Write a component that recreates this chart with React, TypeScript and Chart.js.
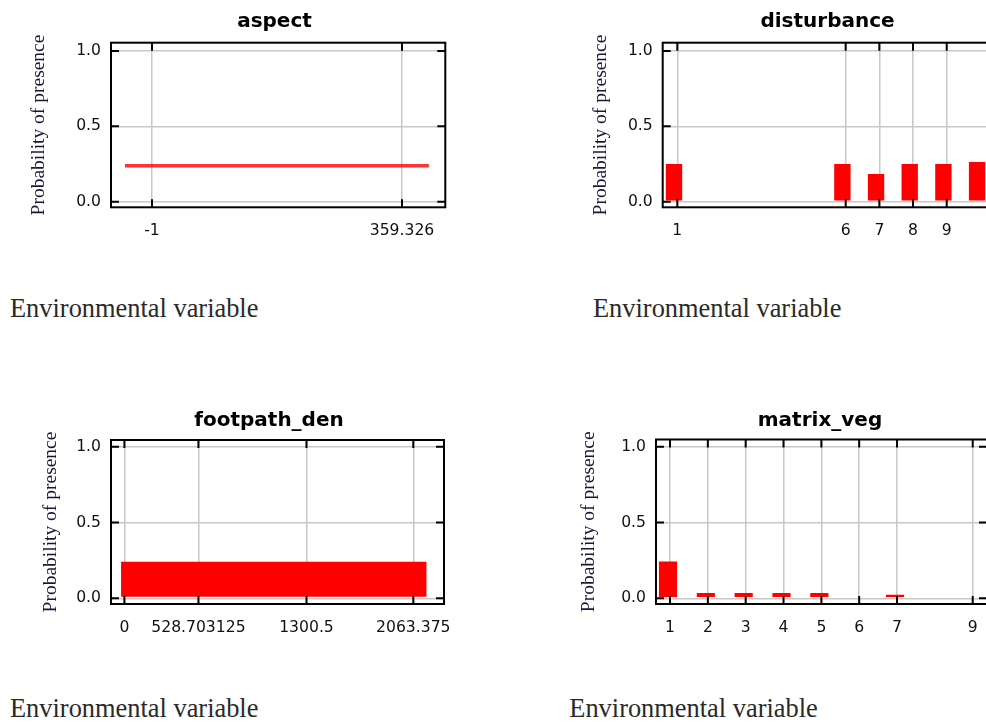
import React, { useEffect, useRef } from 'react';
import { Chart, registerables } from 'chart.js';

Chart.register(...registerables);

// ---------------- data ----------------
const Y_TICKS = [0, 0.5, 1];
const Y_AXIS_TITLE = 'Probability of presence';
const X_CAPTION = 'Environmental variable';
const BAR_BASE = 0.01;

const ASPECT_TITLE = 'aspect';
const ASPECT_X = [-40, 398];
const ASPECT_Y = [0.238, 0.238];
const ASPECT_TICKS = [-1, 359.326];
const ASPECT_TICK_LABELS = ['-1', '359.326'];

const DISTURBANCE_TITLE = 'disturbance';
const DISTURBANCE_CATS = [1, 6, 7, 8, 9, 10];
const DISTURBANCE_VALUES = [0.248, 0.248, 0.181, 0.248, 0.248, 0.261];
const DISTURBANCE_TICKS = [1, 6, 7, 8, 9];
const DISTURBANCE_TICK_LABELS = ['1', '6', '7', '8', '9'];

const FOOTPATH_TITLE = 'footpath_den';
const FOOTPATH_X = [-24, 2159];
const FOOTPATH_Y = [0.241, 0.241];
const FOOTPATH_TICKS = [0, 528.703125, 1300.5, 2063.375];
const FOOTPATH_TICK_LABELS = ['0', '528.703125', '1300.5', '2063.375'];

const MATRIX_TITLE = 'matrix_veg';
const MATRIX_CATS = [1, 2, 3, 4, 5, 7];
const MATRIX_VALUES = [0.241, 0.033, 0.033, 0.033, 0.033, 0.022];
const MATRIX_TICKS = [1, 2, 3, 4, 5, 6, 7, 9];
const MATRIX_TICK_LABELS = ['1', '2', '3', '4', '5', '6', '7', '9'];

// ---------------- styles ----------------
const RED = '#ff0000';
const GRID = '#c8c8c8';
const TITLE_FONT = { family: 'DejaVu Sans', size: 20, weight: 'bold' as const, lineHeight: 1.2 };
const TICK_FONT = { family: 'DejaVu Sans', size: 15.6, lineHeight: 1.2 };
const YTITLE_FONT = { family: 'Liberation Serif', size: 19.5, lineHeight: 1.2 };
const TICK_LEN = 8;

type Kind = 'line' | 'area' | 'bars';
interface PanelCfg {
  kind: Kind;
  title: string;
  xs: number[];
  ys: number[];
  xTicks: number[];
  xTickLabels: string[];
  left: number; top: number; width: number; height: number;
  box: { l: number; t: number; r: number; b: number };
  xMin: number; xMax: number; yMin: number; yMax: number;
  titleMidY: number; yTitleMidX: number;
  barThickness?: number; barShiftPx?: number;
}

const PANELS: PanelCfg[] = [
  {
    kind: 'line', title: ASPECT_TITLE, xs: ASPECT_X, ys: ASPECT_Y,
    xTicks: ASPECT_TICKS, xTickLabels: ASPECT_TICK_LABELS,
    left: 0, top: 0, width: 549, height: 260,
    box: { l: 111, t: 42.7, r: 445.3, b: 207.3 },
    xMin: -60.09, xMax: 421.73, yMin: -0.0371, yMax: 1.0543,
    titleMidY: 22.1, yTitleMidX: 38.5,
  },
  {
    kind: 'bars', title: DISTURBANCE_TITLE, xs: DISTURBANCE_CATS, ys: DISTURBANCE_VALUES,
    xTicks: DISTURBANCE_TICKS, xTickLabels: DISTURBANCE_TICK_LABELS,
    left: 560, top: 0, width: 535, height: 260,
    box: { l: 662.7, t: 42.7, r: 1000, b: 207.3 },
    xMin: 0.5664, xMax: 10.583, yMin: -0.0371, yMax: 1.0543,
    titleMidY: 22.1, yTitleMidX: 600.9,
    barThickness: 15.7, barShiftPx: 3.3,
  },
  {
    kind: 'area', title: FOOTPATH_TITLE, xs: FOOTPATH_X, ys: FOOTPATH_Y,
    xTicks: FOOTPATH_TICKS, xTickLabels: FOOTPATH_TICK_LABELS,
    left: 0, top: 390, width: 538, height: 260,
    box: { l: 111, t: 440, r: 444, b: 604 },
    xMin: -95.7, xMax: 2282.7, yMin: -0.0376, yMax: 1.0442,
    titleMidY: 420.4, yTitleMidX: 50.9,
  },
  {
    kind: 'bars', title: MATRIX_TITLE, xs: MATRIX_CATS, ys: MATRIX_VALUES,
    xTicks: MATRIX_TICKS, xTickLabels: MATRIX_TICK_LABELS,
    left: 560, top: 390, width: 520, height: 260,
    box: { l: 656, t: 439.5, r: 987, b: 604 },
    xMin: 0.63, xMax: 9.378, yMin: -0.0376, yMax: 1.0475,
    titleMidY: 420.4, yTitleMidX: 588.5,
    barThickness: 17.5, barShiftPx: 2,
  },
];

const CAPTIONS = [
  { left: 10, baseline: 317.3 },
  { left: 593, baseline: 317.3 },
  { left: 10, baseline: 717 },
  { left: 569.3, baseline: 717 },
];

const framePlugin = {
  id: 'frame',
  afterDraw(chart: any) {
    const { ctx, chartArea, scales } = chart;
    const { left, top, right, bottom } = chartArea;
    ctx.save();
    ctx.strokeStyle = '#000';
    ctx.lineWidth = 2;
    ctx.beginPath();
    const xs = scales.x;
    xs.ticks.forEach((t: any) => {
      const p = xs.getPixelForValue(t.value);
      ctx.moveTo(p, bottom); ctx.lineTo(p, bottom - TICK_LEN);
      ctx.moveTo(p, top); ctx.lineTo(p, top + TICK_LEN);
    });
    const ys = scales.y;
    ys.ticks.forEach((t: any) => {
      const p = ys.getPixelForValue(t.value);
      ctx.moveTo(left, p); ctx.lineTo(left + TICK_LEN, p);
      ctx.moveTo(right, p); ctx.lineTo(right - TICK_LEN, p);
    });
    ctx.stroke();
    ctx.strokeRect(left, top, right - left, bottom - top);
    ctx.restore();
  },
};

function buildConfig(p: PanelCfg): any {
  const TITLE_LH = TITLE_FONT.size * TITLE_FONT.lineHeight;
  const YT_LH = YTITLE_FONT.size * YTITLE_FONT.lineHeight;
  const yAxisW = p.box.l - p.left;
  const rightW = p.left + p.width - p.box.r;
  const xAxisH = p.top + p.height - p.box.b;
  const tPadTop = p.titleMidY - p.top - TITLE_LH / 2;
  const tPadBottom = p.box.t - p.top - tPadTop - TITLE_LH;
  const yTitlePad = p.yTitleMidX - p.left - YT_LH / 2;
  const ppu = (p.box.r - p.box.l) / (p.xMax - p.xMin);
  const shift = (p.barShiftPx || 0) / ppu;

  let datasets: any[] = [];
  if (p.kind === 'line') {
    datasets = [{
      type: 'line',
      data: p.xs.map((x, i) => ({ x, y: p.ys[i] })),
      borderColor: 'rgba(255,0,0,0.8)', borderWidth: 3.4, pointRadius: 0, fill: false,
      xAxisID: 'x', yAxisID: 'y',
    }];
  } else if (p.kind === 'area') {
    datasets = [{
      type: 'line',
      data: p.xs.map((x, i) => ({ x, y: p.ys[i] })),
      borderColor: 'rgba(0,0,0,0)', borderWidth: 0, backgroundColor: RED,
      pointRadius: 0, fill: { value: BAR_BASE },
      xAxisID: 'x', yAxisID: 'y',
    }];
  } else {
    datasets = [{
      type: 'bar',
      data: p.xs.map((x, i) => ({ x, y: p.ys[i] })),
      base: BAR_BASE, backgroundColor: RED, borderWidth: 0,
      barThickness: p.barThickness,
      xAxisID: 'xb', yAxisID: 'y',
    }];
  }

  const scales: any = {
    x: {
      type: 'linear', position: 'bottom', min: p.xMin, max: p.xMax, offset: false,
      afterBuildTicks: (s: any) => { s.ticks = p.xTicks.map((v) => ({ value: v })); },
      afterFit: (s: any) => { s.height = xAxisH; },
      grid: { color: GRID, lineWidth: 1.5, drawTicks: false, offset: false },
      border: { display: false },
      ticks: {
        font: TICK_FONT, color: '#111', padding: 14.5, autoSkip: false,
        maxRotation: 0, minRotation: 0,
        callback: (_v: any, i: number) => p.xTickLabels[i],
      },
    },
    y: {
      type: 'linear', position: 'left', min: p.yMin, max: p.yMax,
      afterBuildTicks: (s: any) => { s.ticks = Y_TICKS.map((v) => ({ value: v })); },
      afterFit: (s: any) => { s.width = yAxisW; },
      grid: { color: GRID, lineWidth: 1.5, drawTicks: false },
      border: { display: false },
      ticks: {
        font: TICK_FONT, color: '#111', padding: 10,
        callback: (v: any) => Number(v).toFixed(1),
      },
      title: {
        display: true, text: Y_AXIS_TITLE, font: YTITLE_FONT, color: '#16163a',
        padding: { top: yTitlePad, bottom: 0 },
      },
    },
    yR: {
      type: 'linear', position: 'right', display: true,
      afterFit: (s: any) => { s.width = rightW; },
      grid: { display: false, drawTicks: false },
      border: { display: false },
      ticks: { display: false },
    },
  };
  if (p.kind === 'bars') {
    scales.xb = {
      type: 'linear', display: false, offset: false,
      min: p.xMin + shift, max: p.xMax + shift,
      grid: { offset: false },
    };
  }

  return {
    type: p.kind === 'bars' ? 'bar' : 'line',
    data: { datasets },
    options: {
      animation: false,
      responsive: false,
      events: [],
      layout: { padding: 0 },
      plugins: {
        legend: { display: false },
        tooltip: { enabled: false },
        title: {
          display: true, text: p.title, font: TITLE_FONT, color: '#000',
          padding: { top: tPadTop, bottom: tPadBottom },
        },
      },
      scales,
    },
    plugins: [framePlugin],
  };
}

function Panel({ cfg }: { cfg: PanelCfg }) {
  const ref = useRef<HTMLCanvasElement>(null);
  useEffect(() => {
    const chart = new Chart(ref.current as HTMLCanvasElement, buildConfig(cfg));
    return () => chart.destroy();
  }, [cfg]);
  return (
    <canvas
      ref={ref}
      width={cfg.width}
      height={cfg.height}
      style={{ position: 'absolute', left: cfg.left, top: cfg.top, width: cfg.width, height: cfg.height }}
    />
  );
}

export default function App() {
  const CAP_SIZE = 26.4;
  return (
    <div style={{ position: 'absolute', left: 0, top: 0, width: 986, height: 722, overflow: 'hidden', background: '#fff' }}>
      {PANELS.map((p, i) => <Panel key={i} cfg={p} />)}
      {CAPTIONS.map((c, i) => (
        <div
          key={'c' + i}
          style={{
            position: 'absolute', left: c.left, top: c.baseline - 0.8377 * CAP_SIZE,
            fontFamily: '"Liberation Serif", serif', fontSize: CAP_SIZE, lineHeight: CAP_SIZE + 'px',
            color: '#2a2a2a', whiteSpace: 'nowrap',
          }}
        >
          {X_CAPTION}
        </div>
      ))}
    </div>
  );
}
